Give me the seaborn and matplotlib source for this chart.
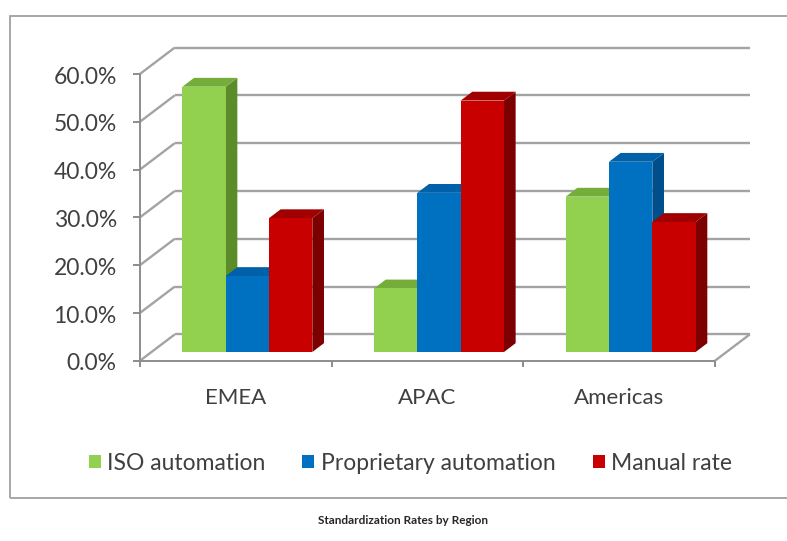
import numpy as np
import pandas as pd
import matplotlib
matplotlib.use("Agg")
import matplotlib.pyplot as plt
import seaborn as sns
from matplotlib.patches import Polygon, Rectangle, Patch
from matplotlib.lines import Line2D

# ---- data ----
regions = ["EMEA", "APAC", "Americas"]
series = ["ISO automation", "Proprietary automation", "Manual rate"]
iso_automation = [55.5, 13.3, 32.5]
proprietary_automation = [15.9, 33.3, 39.8]
manual_rate = [28.0, 52.6, 27.2]
y_ticks = [0, 10, 20, 30, 40, 50, 60]
y_tick_labels = ["0.0%", "10.0%", "20.0%", "30.0%", "40.0%", "50.0%", "60.0%"]
title = "Standardization Rates by Region"

# ---- styling ----
front_colors = ["#92D050", "#0070C0", "#C80000"]
top_colors = ["#74AD3A", "#0060A8", "#A00000"]
side_colors = ["#5C8C2A", "#004F8C", "#7C0000"]
grid_color = "#A3A3A3"
axis_color = "#8C8C8C"
text_color = "#404040"

df = pd.DataFrame({
    "region": regions * 3,
    "series": np.repeat(series, len(regions)),
    "value": iso_automation + proprietary_automation + manual_rate,
})

sns.set_theme(style="white")
plt.rcParams["font.family"] = ["Lato", "DejaVu Sans"]

DPI = 100
W_PX, H_PX = 787, 541
fig = plt.figure(figsize=(W_PX / DPI, H_PX / DPI), dpi=DPI)
fig.patch.set_facecolor("white")

# axes in the plane of the bars' front faces
ax = fig.add_axes([151.5 / W_PX, (H_PX - 352) / H_PX, 575 / W_PX, 286.8 / H_PX])
sns.barplot(data=df, x="region", y="value", hue="series", hue_order=series,
            order=regions, palette=front_colors, width=0.678, gap=0,
            saturation=1, errorbar=None, legend=False, linewidth=0,
            edgecolor="none", ax=ax)
ax.set_xlim(-0.5, 2.5)
ax.set_ylim(0, 60)
ax.axis("off")

# oblique projection: depth 0 = front of floor, 1 = back wall; bars sit at 1/3..2/3
bb = ax.get_position()
px_x = bb.width * W_PX / 3.0
px_y = bb.height * H_PX / 60.0
depth_px = (35.0, 26.5)
bar_t = 1.0 / 3.0


def off(t):
    return ((t - bar_t) * depth_px[0] / px_x, (t - bar_t) * depth_px[1] / px_y)


def seg(p, q, color, lw, z):
    ax.add_line(Line2D([p[0], q[0]], [p[1], q[1]], color=color, lw=lw,
                       zorder=z, clip_on=False, solid_capstyle="butt"))


fx, fy = off(0.0)
bx, by = off(1.0)
x_left, x_right = -0.5, 2.5

# back wall gridlines and left wall diagonals
for y in y_ticks:
    seg((x_left + bx, y + by), (x_right + bx, y + by), grid_color, 1.7, 1)
    seg((x_left + fx, y + fy), (x_left + bx, y + by), grid_color, 1.7, 1)
# floor right edge
seg((x_right + fx, fy), (x_right + bx, by), grid_color, 1.7, 1)

# front axes
seg((x_left + fx, fy), (x_right + fx, fy), axis_color, 1.4, 6)
seg((x_left + fx, fy), (x_left + fx, 60 + fy), axis_color, 1.4, 6)
for y, lab in zip(y_ticks, y_tick_labels):
    seg((x_left + fx - 7 / px_x, y + fy), (x_left + fx, y + fy), axis_color, 1.4, 6)
    ax.text(x_left + fx - 23 / px_x, y + fy - 3 / px_y, lab, ha="right",
            va="center", fontsize=16.5, color=text_color, clip_on=False)
for b in np.arange(-0.5, 3.0, 1.0):
    seg((b + fx, fy), (b + fx, fy - 6 / px_y), axis_color, 1.4, 6)
for i, reg in enumerate(regions):
    ax.text(i + fx, fy - 37 / px_y, reg, ha="center", va="center",
            fontsize=16, color=text_color, clip_on=False)

# 3D top and side faces for every bar, drawn left to right
dxb, dyb = off(2.0 / 3.0)
bars = sorted(ax.patches, key=lambda p: p.get_x())
front_hex = [c.upper() for c in front_colors]
for k, p in enumerate(bars):
    x0 = p.get_x()
    x1 = x0 + p.get_width()
    h = p.get_height()
    hexcol = matplotlib.colors.to_hex(p.get_facecolor()).upper()
    ci = front_hex.index(hexcol) if hexcol in front_hex else 0
    side = Polygon([(x1, 0), (x1, h), (x1 + dxb, h + dyb), (x1 + dxb, dyb)],
                   closed=True, facecolor=side_colors[ci], edgecolor="none",
                   zorder=2 + 0.01 * k, clip_on=False)
    top = Polygon([(x0, h), (x1, h), (x1 + dxb, h + dyb), (x0 + dxb, h + dyb)],
                  closed=True, facecolor=top_colors[ci], edgecolor="none",
                  zorder=2 + 0.01 * k + 0.005, clip_on=False)
    ax.add_patch(side)
    ax.add_patch(top)
    p.set_zorder(3)
    p.set_clip_on(False)

# legend
handles = [Patch(facecolor=c, edgecolor="none", label=s)
           for c, s in zip(front_colors, series)]
fig.legend(handles=handles, loc="center", ncol=3, frameon=False,
           bbox_to_anchor=(410.5 / W_PX, (H_PX - 463) / H_PX),
           fontsize=16.5, handlelength=0.52, handleheight=0.52,
           handletextpad=0.3, columnspacing=1.6, labelcolor=text_color)

# chart frame
fig.patches.append(Rectangle((10 / W_PX, (H_PX - 498) / H_PX),
                             (800 - 10) / W_PX, (498 - 16) / H_PX,
                             transform=fig.transFigure, fill=False,
                             edgecolor="#A0A0A0", lw=1.3))

fig.text(403 / W_PX, (H_PX - 521) / H_PX, title, ha="center", va="center",
         fontsize=8.5, fontweight="bold", color="#262626")

fig.savefig("out.png", dpi=DPI)
